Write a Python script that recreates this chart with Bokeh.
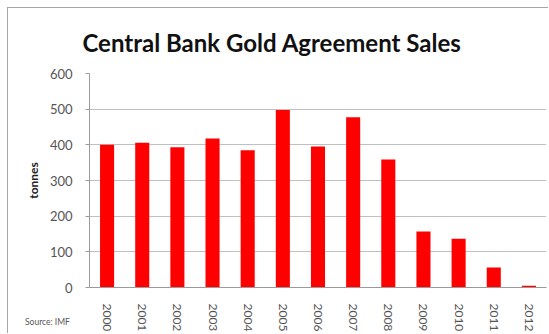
import math
from bokeh.plotting import figure
from bokeh.models import FactorRange, Range1d, FixedTicker, Div
from bokeh.layouts import column
from bokeh.embed import file_html
from bokeh.resources import INLINE

years = ["2000", "2001", "2002", "2003", "2004", "2005", "2006",
         "2007", "2008", "2009", "2010", "2011", "2012"]
tonnes = [400, 406, 393, 418, 385, 498, 395, 477, 359, 157, 137, 56, 5]
y_ticks = [0, 100, 200, 300, 400, 500, 600]
title_text = "Central Bank Gold Agreement Sales"
source_text = "Source: IMF"

FONT = "Lato"

p = figure(width=541, height=326, x_range=FactorRange(*years),
           y_range=Range1d(0, 600), output_backend="svg",
           toolbar_location=None,
           min_border_left=81, min_border_right=3,
           min_border_top=65, min_border_bottom=46)
p.margin = (7, 0, 0, 7)
p.styles = {"border-top": "1px solid #a6a6a6",
            "border-left": "1px solid #a6a6a6"}
p.outline_line_color = None
p.background_fill_color = "white"
p.border_fill_color = "white"

p.title.text = title_text
p.title.align = "left"
p.title.text_font = FONT
p.title.text_font_style = "bold"
p.title.text_font_size = "24px"
p.title.text_color = "#111111"
p.title.offset = -7
p.title.standoff = 33

p.vbar(x=years, top=tonnes, width=0.4, fill_color="#ff0000", line_color=None)

p.x_range.range_padding = 0
p.xgrid.grid_line_color = None
p.ygrid.grid_line_color = "#c0c0c0"
p.ygrid.grid_line_width = 1

p.yaxis.ticker = FixedTicker(ticks=y_ticks)
p.yaxis.axis_label = "tonnes"
p.yaxis.axis_label_text_font = FONT
p.yaxis.axis_label_text_font_style = "bold"
p.yaxis.axis_label_text_font_size = "12px"
p.yaxis.axis_label_text_color = "#222222"
p.yaxis.axis_label_standoff = 6
p.yaxis.major_label_text_font = FONT
p.yaxis.major_label_text_font_size = "13px"
p.yaxis.major_label_text_color = "#555555"
p.yaxis.major_label_standoff = 13
p.yaxis.axis_line_color = "#9a9a9a"
p.yaxis.major_tick_line_color = "#9a9a9a"
p.yaxis.major_tick_out = 4
p.yaxis.major_tick_in = 0
p.yaxis.minor_tick_line_color = None

p.xaxis.major_label_orientation = -math.pi / 2
p.xaxis.major_label_text_font = FONT
p.xaxis.major_label_text_font_size = "12px"
p.xaxis.major_label_text_color = "#555555"
p.xaxis.major_label_standoff = 10
p.xaxis.axis_line_color = "#9a9a9a"
p.xaxis.major_tick_line_color = None

src = Div(text=source_text, width=80, height=12, margin=(-17, 0, 0, 25),
          styles={"font-family": FONT, "font-size": "8.5px", "color": "#555555",
                  "line-height": "12px", "z-index": "10"})

layout = column(p, src, spacing=0)

open("out.html", "w").write(file_html(layout, INLINE))
